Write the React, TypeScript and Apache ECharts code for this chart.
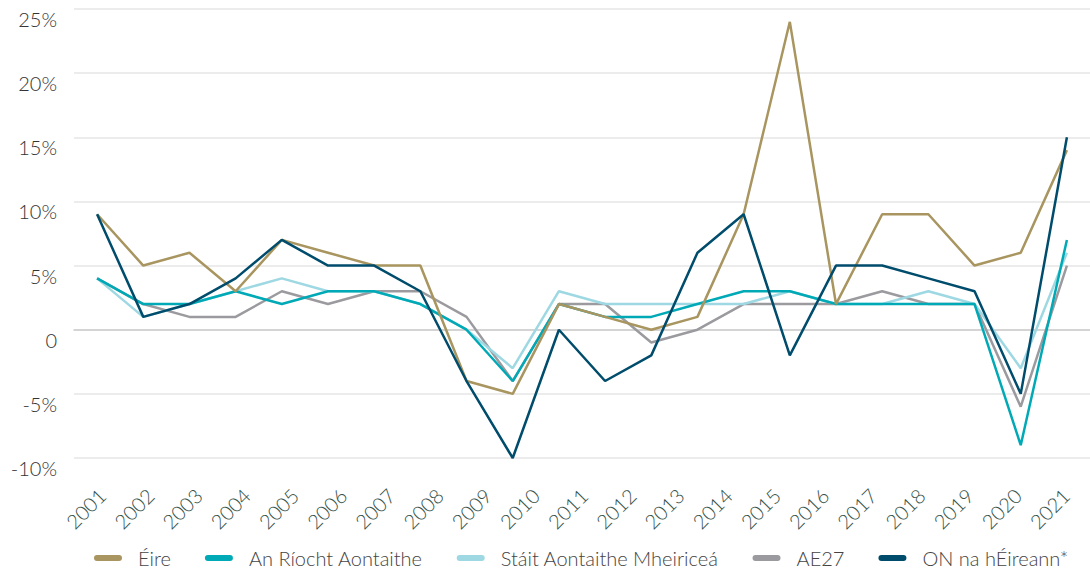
import React, { useEffect, useRef } from "react";
import * as echarts from "echarts";

const years = ["2001","2002","2003","2004","2005","2006","2007","2008","2009","2010","2011","2012","2013","2014","2015","2016","2017","2018","2019","2020","2021"];

const eire = [9, 5, 6, 3, 7, 6, 5, 5, -4, -5, 2, 1, 0, 1, 9, 24, 2, 9, 9, 5, 6, 14];
const uk = [4, 2, 2, 3, 2, 3, 3, 2, 0, -4, 2, 1, 1, 2, 3, 3, 2, 2, 2, 2, -9, 7];
const us = [4, 1, 2, 3, 4, 3, 3, 2, 0, -3, 3, 2, 2, 2, 2, 3, 2, 2, 3, 2, -3, 6];
const eu27 = [4, 2, 1, 1, 3, 2, 3, 3, 1, -4, 2, 2, -1, 0, 2, 2, 2, 3, 2, 2, -6, 5];
const ni = [9, 1, 2, 4, 7, 5, 5, 3, -4, -10, 0, -4, -2, 6, 9, -2, 5, 5, 4, 3, -5, 15];

const seriesNames = ["Éire", "An Ríocht Aontaithe", "Stáit Aontaithe Mheiriceá", "AE27", "ON na hÉireann*"];
const seriesColors = ["#A8955F", "#00A9B6", "#9ED8E3", "#9B9A9F", "#004C6C"];
const seriesZ = [5, 4, 3, 2, 6];

const FONT = "Lato, 'Open Sans', sans-serif";

export default function App() {
  const ref = useRef<HTMLDivElement>(null);
  useEffect(() => {
    if (!ref.current) return;
    const chart = echarts.init(ref.current, null, { renderer: "svg" });
    const allData = [eire, uk, us, eu27, ni];
    const pointCats = eire.map((_, i) => String(i));
    chart.setOption({
      animation: false,
      backgroundColor: "#ffffff",
      grid: [
        { left: 74, right: 0, top: 9, bottom: 113, containLabel: false },
        { left: 78, right: -4, top: 9, bottom: 113, containLabel: false },
      ],
      legend: {
        left: 89,
        top: 541,
        icon: "path://M3,0 L25,0 A3,3 0 0 1 25,6 L3,6 A3,3 0 0 1 3,0 Z",
        itemWidth: 28,
        itemHeight: 6,
        itemGap: 34,
        data: seriesNames,
        formatter: (name: string) => `{s|}{t|${name}}`,
        textStyle: {
          fontFamily: FONT,
          fontWeight: 300,
          fontSize: 20,
          color: "#444444",
          lineHeight: 24,
          rich: {
            s: { width: 11 },
            t: {
              fontFamily: FONT,
              fontWeight: 300,
              fontSize: 20,
              color: "#444444",
              lineHeight: 24,
            },
          },
        },
      },
      xAxis: [
        {
          type: "category",
          gridIndex: 1,
          data: years,
          boundaryGap: true,
          position: "bottom",
          axisLine: { show: false, onZero: false },
          axisTick: { show: false },
          splitLine: { show: false },
          axisLabel: {
            rotate: 45,
            margin: 34,
            interval: 0,
            fontFamily: FONT,
            fontWeight: 300,
            fontSize: 20,
            color: "#35524A",
          },
        },
        {
          type: "category",
          gridIndex: 0,
          data: pointCats,
          boundaryGap: true,
          position: "bottom",
          axisLine: { show: true, onZero: true, lineStyle: { color: "#CCCCCC", width: 1.5 } },
          axisTick: { show: false },
          axisLabel: { show: false },
          splitLine: { show: false },
        },
      ],
      yAxis: [
        {
          type: "value",
          gridIndex: 0,
          min: -10,
          max: 25,
          interval: 5,
          axisLine: { show: false },
          axisTick: { show: false },
          splitLine: { lineStyle: { color: "#E6E6E6", width: 1.5 } },
          axisLabel: {
            margin: 17,
            verticalAlign: "top",
            fontFamily: FONT,
            fontWeight: 300,
            fontSize: 20,
            color: "#333333",
            formatter: (v: number) => (v === 0 ? "0" : `${v}%`),
          },
        },
        {
          type: "value",
          gridIndex: 1,
          min: -10,
          max: 25,
          interval: 5,
          show: false,
          splitLine: { show: false },
        },
      ],
      series: seriesNames.map((name, i) => ({
        name,
        type: "line",
        xAxisIndex: 1,
        yAxisIndex: 0,
        data: allData[i],
        symbol: "none",
        showSymbol: false,
        z: seriesZ[i],
        itemStyle: { color: seriesColors[i] },
        lineStyle: { color: seriesColors[i], width: 2.5 },
      })),
    });
    return () => chart.dispose();
  }, []);
  return (
    <div
      ref={ref}
      style={{ position: "fixed", left: 0, top: 0, width: 1090, height: 571 }}
    />
  );
}
